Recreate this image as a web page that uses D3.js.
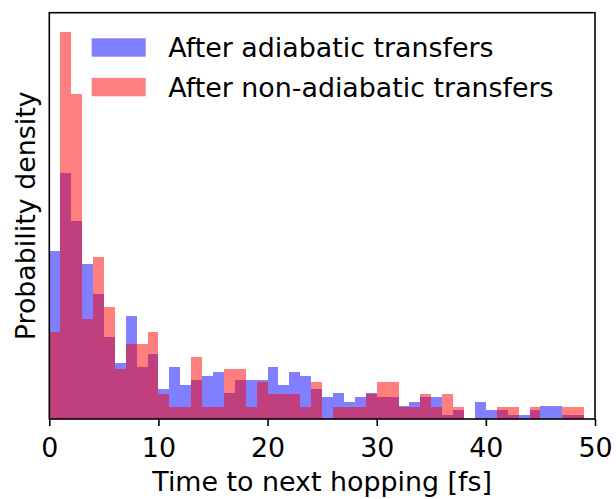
<!DOCTYPE html>
<html>
<head>
<meta charset="utf-8">
<script src="https://cdn.jsdelivr.net/npm/d3@7"></script>
<style>
  html, body { margin: 0; padding: 0; background: #fff; }
  svg text { font-family: "DejaVu Sans", sans-serif; fill: #000; }
</style>
</head>
<body>
<svg id="chart" width="616" height="499"></svg>
<script>
// ---- data (histogram counts per 1 fs bin, 0..50 fs) ----
const binWidth = 1;
const xTicks = [0, 10, 20, 30, 40, 50];
const seriesNames = ["After adiabatic transfers", "After non-adiabatic transfers"];
const adiabaticCounts = [
  39, 57, 46, 36, 29, 19, 13, 24, 12, 15,
   7, 12,  8,  9, 10, 11,  6,  9,  9,  9,
  12,  8, 11, 10,  7,  5,  6,  4,  5,  6,
   5,  5,  3,  4,  5,  5,  1,  2,  0,  4,
   2,  2,  1,  1,  2,  3,  3,  1,  1,  0
];
const nonAdiabaticCounts = [
   7, 31, 26,  8, 13,  9,  4,  6,  6,  7,
   2,  1,  1,  5,  1,  1,  4,  4,  1,  3,
   2,  2,  2,  1,  3,  0,  1,  1,  1,  2,
   3,  3,  1,  1,  2,  1,  2,  1,  0,  0,
   0,  1,  1,  0,  1,  0,  0,  1,  1,  0
];
const seriesColors = ["#0000ff", "#ff0000"];

// ---- density normalisation (like density=True) ----
function toDensity(counts) {
  const total = d3.sum(counts);
  return counts.map((c, i) => ({ x0: i * binWidth, x1: (i + 1) * binWidth, d: c / (total * binWidth) }));
}
const series = [toDensity(adiabaticCounts), toDensity(nonAdiabaticCounts)];

// ---- layout ----
const svg = d3.select("#chart");
const plot = { left: 49.3, right: 595, top: 12.7, bottom: 419 };
const fontSize = 26.85;

const x = d3.scaleLinear().domain([0, 50]).range([plot.left, plot.right]);
const maxD = d3.max(series, s => d3.max(s, b => b.d));
const y = d3.scaleLinear().domain([0, maxD * 1.05]).range([plot.bottom, plot.top]);

// bars
series.forEach((s, si) => {
  svg.append("g")
    .selectAll("rect")
    .data(s.filter(b => b.d > 0))
    .join("rect")
    .attr("x", b => x(b.x0))
    .attr("width", b => x(b.x1) - x(b.x0))
    .attr("y", b => y(b.d))
    .attr("height", b => y(0) - y(b.d))
    .attr("fill", seriesColors[si])
    .attr("fill-opacity", 0.5)
    .attr("shape-rendering", "crispEdges");
});

// frame
svg.append("rect")
  .attr("x", plot.left).attr("y", plot.top)
  .attr("width", plot.right - plot.left).attr("height", plot.bottom - plot.top)
  .attr("fill", "none").attr("stroke", "#000").attr("stroke-width", 1.6);

// x axis
const xAxis = d3.axisBottom(x).tickValues(xTicks).tickSize(7).tickPadding(6).tickFormat(d3.format("d"));
const gx = svg.append("g").attr("transform", `translate(0,${plot.bottom})`).call(xAxis);
gx.select(".domain").remove();
gx.selectAll(".tick line").attr("stroke", "#000").attr("stroke-width", 1.6);
gx.selectAll(".tick text")
  .attr("font-size", fontSize)
  .attr("font-family", "DejaVu Sans")
  .attr("fill", "#000")
  .attr("dy", null)
  .attr("y", 38);

// axis labels
svg.append("text")
  .attr("x", (plot.left + plot.right) / 2)
  .attr("y", 491)
  .attr("text-anchor", "middle")
  .attr("font-size", fontSize)
  .text("Time to next hopping [fs]");

svg.append("text")
  .attr("transform", `translate(35,${(plot.top + plot.bottom) / 2}) rotate(-90)`)
  .attr("text-anchor", "middle")
  .attr("font-size", fontSize)
  .text("Probability density");

// legend
const legend = svg.append("g");
seriesNames.forEach((name, i) => {
  const cy = 47.5 + i * 39.6;
  legend.append("rect")
    .attr("x", 91.7).attr("y", cy - 9.2)
    .attr("width", 54).attr("height", 18.4)
    .attr("fill", seriesColors[i]).attr("fill-opacity", 0.5);
  legend.append("text")
    .attr("x", 168.3).attr("y", cy + 9.6)
    .attr("font-size", fontSize)
    .text(name);
});
</script>
</body>
</html>
